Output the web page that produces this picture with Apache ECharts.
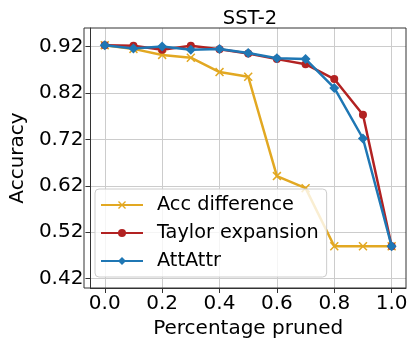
<!DOCTYPE html>
<html>
<head>
<meta charset="utf-8">
<script src="https://cdn.jsdelivr.net/npm/echarts@6/dist/echarts.min.js"></script>
<style>
html,body{margin:0;padding:0;background:#fff;}
#chart{width:415px;height:347px;}
</style>
</head>
<body>
<div id="chart"></div>
<script>
const xValues = [0.0, 0.1, 0.2, 0.3, 0.4, 0.5, 0.6, 0.7, 0.8, 0.9, 1.0];
const accDifference = [0.923, 0.915, 0.902, 0.896, 0.865, 0.855, 0.641, 0.615, 0.490, 0.490, 0.490];
const taylorExpansion = [0.923, 0.922, 0.913, 0.922, 0.914, 0.905, 0.893, 0.882, 0.850, 0.773, 0.490];
const attAttr = [0.923, 0.916, 0.920, 0.913, 0.915, 0.906, 0.895, 0.893, 0.831, 0.722, 0.490];
const xTicks = [0.0, 0.2, 0.4, 0.6, 0.8, 1.0];
const yTicks = [0.42, 0.52, 0.62, 0.72, 0.82, 0.92];
const seriesNames = ['Acc difference', 'Taylor expansion', 'AttAttr'];

const FONT = 'DejaVu Sans';
const xMark = 'path://M0,1.2L1.2,0L5,3.8L8.8,0L10,1.2L6.2,5L10,8.8L8.8,10L5,6.2L1.2,10L0,8.8L3.8,5Z';

function pairs(vals) { return xValues.map((x, i) => [x, vals[i]]); }

const chart = echarts.init(document.getElementById('chart'), null, {renderer: 'canvas'});
chart.setOption({
  animation: false,
  backgroundColor: '#ffffff',
  title: {
    text: 'SST-2',
    left: 245, top: 4, textAlign: 'center',
    textStyle: {fontFamily: FONT, fontSize: 19.5, fontWeight: 'normal', color: '#000'}
  },
  grid: {left: 84, right: 9, top: 28, bottom: 59, show: false},
  legend: {
    orient: 'vertical',
    left: 95, top: 189,
    padding: [6, 8, 6, 5],
    itemWidth: 42, itemHeight: 10, itemGap: 8,
    backgroundColor: 'rgba(255,255,255,0.8)',
    borderColor: '#cccccc', borderWidth: 1, borderRadius: 4,
    textStyle: {fontFamily: FONT, fontSize: 19.3, color: '#000', lineHeight: 20, padding: [0, 0, 0, 9]},
    data: seriesNames
  },
  xAxis: {
    type: 'value', min: -0.05, max: 1.05,
    name: 'Percentage pruned', nameLocation: 'middle', nameGap: 30,
    nameTextStyle: {fontFamily: FONT, fontSize: 20, color: '#000'},
    axisLine: {show: true, onZero: false, lineStyle: {color: '#333', width: 1}},
    axisTick: {show: true, inside: false, length: 5, customValues: xTicks, lineStyle: {color: '#333'}},
    axisLabel: {customValues: xTicks, margin: 6, fontFamily: FONT, fontSize: 20, color: '#000',
      formatter: v => v.toFixed(1)},
    splitLine: {show: true, lineStyle: {color: '#cccccc', width: 1}}
  },
  yAxis: {
    type: 'value', min: 0.40, max: 0.96,
    name: 'Accuracy', nameLocation: 'middle', nameGap: 59,
    nameTextStyle: {fontFamily: FONT, fontSize: 20, color: '#000'},
    axisLine: {show: true, onZero: false, lineStyle: {color: '#333', width: 1}},
    axisTick: {show: true, inside: false, length: 5, customValues: yTicks, lineStyle: {color: '#333'}},
    axisLabel: {customValues: yTicks, margin: 7, fontFamily: FONT, fontSize: 20, color: '#000',
      formatter: v => v.toFixed(2)},
    splitLine: {show: true, lineStyle: {color: '#cccccc', width: 1}}
  },
  graphic: [{
    type: 'rect', z: 100, silent: true,
    shape: {x: 84, y: 28, width: 322, height: 260},
    style: {fill: 'none', stroke: '#333', lineWidth: 1}
  }],
  series: [
    {
      name: seriesNames[0], type: 'line', data: pairs(accDifference),
      symbol: xMark, symbolSize: 9, showAllSymbol: true,
      lineStyle: {color: '#E2A822', width: 2.5},
      itemStyle: {color: '#E2A822'}, z: 2
    },
    {
      name: seriesNames[1], type: 'line', data: pairs(taylorExpansion),
      symbol: 'circle', symbolSize: 8, showAllSymbol: true,
      lineStyle: {color: '#B22222', width: 2.5},
      itemStyle: {color: '#B22222'}, z: 3
    },
    {
      name: seriesNames[2], type: 'line', data: pairs(attAttr),
      symbol: 'diamond', symbolSize: 10, showAllSymbol: true,
      lineStyle: {color: '#1f77b4', width: 2.5},
      itemStyle: {color: '#1f77b4'}, z: 4
    }
  ]
});
</script>
</body>
</html>
